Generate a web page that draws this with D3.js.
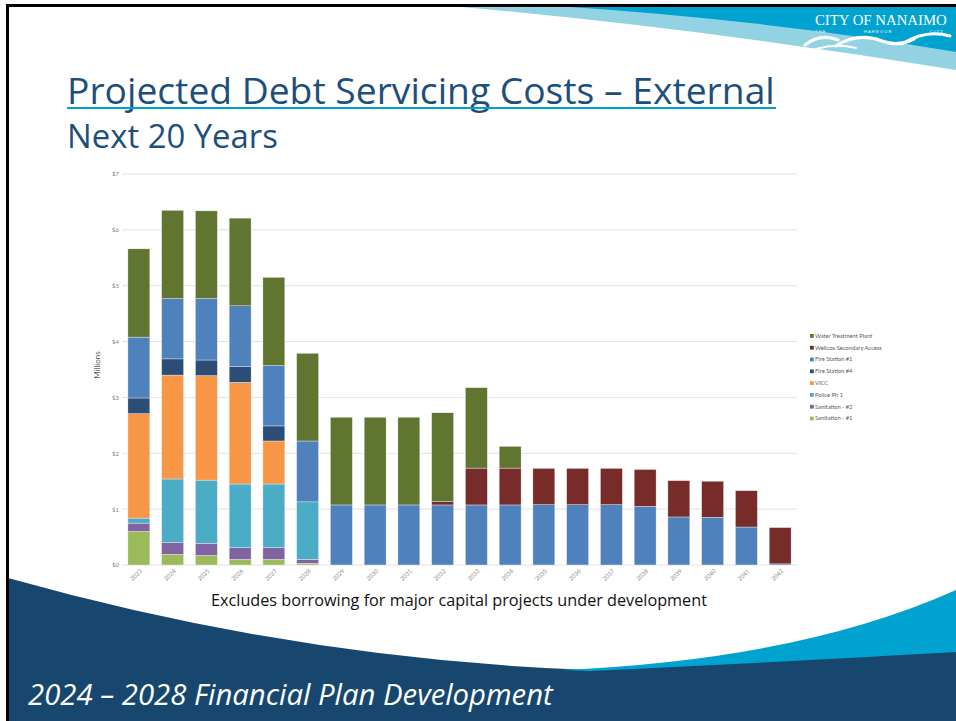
<!DOCTYPE html>
<html>
<head>
<meta charset="utf-8">
<script src="https://cdn.jsdelivr.net/npm/d3@7"></script>
<style>
  body { margin: 0; background: #fff; }
  svg { display: block; }
</style>
</head>
<body>
<div id="slide"></div>
<script>
// data (millions of dollars)
var years = ["2023","2024","2025","2026","2027","2028","2029","2030","2031","2032",
             "2033","2034","2035","2036","2037","2038","2039","2040","2041","2042"];
var sanitation1 = [0.60,0.19,0.17,0.10,0.10,0.03,0,0,0,0,0,0,0,0,0,0,0,0,0,0];
var sanitation2 = [0.15,0.21,0.22,0.21,0.21,0.07,0,0,0,0,0,0,0,0,0,0,0,0,0,0];
var policePh1   = [0.09,1.14,1.13,1.14,1.14,1.03,0,0,0,0,0,0,0,0,0,0,0,0,0,0];
var vicc        = [1.87,1.86,1.87,1.82,0.77,0,0,0,0,0,0,0,0,0,0,0,0,0,0,0];
var fireStation4 = [0.28,0.29,0.28,0.28,0.27,0,0,0,0,0,0,0,0,0,0,0,0,0,0,0];
var fireStation1 = [1.09,1.08,1.10,1.09,1.08,1.09,1.075,1.075,1.075,1.075,
                    1.075,1.075,1.08,1.08,1.08,1.05,0.86,0.855,0.68,0.02];
var wellcox     = [0,0,0,0,0,0,0,0,0,0.06,0.66,0.66,0.65,0.65,0.65,0.66,0.65,0.645,0.65,0.65];
var waterPlant  = [1.58,1.58,1.57,1.57,1.58,1.57,1.57,1.57,1.57,1.59,1.44,0.39,0,0,0,0,0,0,0,0];
var yTicks = [0,1,2,3,4,5,6,7];

var seriesNames = ["Sanitation - #1","Sanitation - #2","Police Ph 1","VICC",
                   "Fire Station #4","Fire Station #1","Wellcox Secondary Access","Water Treatment Plant"];
var seriesValues = [sanitation1, sanitation2, policePh1, vicc, fireStation4, fireStation1, wellcox, waterPlant];
var seriesColors = ["#9bbb59","#8064a2","#4bacc6","#f79646","#2c4d75","#4f81bd","#772c2a","#5f7530"];

var W = 956, H = 721;
var svg = d3.select("#slide").append("svg")
    .attr("width", W)
    .attr("height", H);

svg.append("rect").attr("width", W).attr("height", H).attr("fill", "#fff");

// fit a text to a given width by scaling its font size
function fit(t, width) {
    var len = t.node().getComputedTextLength();
    var fs = parseFloat(t.attr("font-size"));
    t.attr("font-size", fs * width / len);
}

// top decoration
svg.append("path")
    .attr("d", "M450,6 Q700,28 956,70 L956,6 Z")
    .attr("fill", "#92d2e3");
svg.append("path")
    .attr("d", "M556,6 Q770,20 956,52 L956,6 Z")
    .attr("fill", "#00a3cf");

// logo
var logo = svg.append("text")
    .attr("x", 815).attr("y", 25)
    .attr("font-family", "Liberation Serif")
    .attr("font-size", 15)
    .attr("fill", "#fff")
    .text("CITY OF NANAIMO");
fit(logo, 132);
[["T H E", 815], ["H A R B O U R", 864], ["C I T Y", 930]].forEach(function(p) {
    svg.append("text")
        .attr("x", p[1]).attr("y", 32.5)
        .attr("font-family", "Liberation Sans")
        .attr("font-size", 4.2)
        .attr("fill", "#e8f6fb")
        .text(p[0]);
});
var waves = svg.append("g")
    .attr("fill", "none").attr("stroke", "#fff").attr("stroke-linecap", "round");
waves.append("path").attr("d", "M805,45 Q820,33 838,40").attr("stroke-width", 3.2);
waves.append("path").attr("d", "M836,46 Q858,32 882,41 Q898,47 914,39").attr("stroke-width", 3.2);
waves.append("path").attr("d", "M902,44 Q926,29 950,36").attr("stroke-width", 3);
waves.append("path").attr("d", "M816,49 Q836,43 856,48").attr("stroke-width", 2);

// bottom waves
svg.append("path")
    .attr("d", "M8,578 Q300,660 590,670 Q800,660 956,650 L956,721 L8,721 Z")
    .attr("fill", "#17476f");
svg.append("path")
    .attr("d", "M560,670 Q800,660 956,590 L956,652 Q800,661 590,671 Z")
    .attr("fill", "#00a3cf");

// frame
svg.append("line").attr("x1", 6).attr("x2", W).attr("y1", 5.5).attr("y2", 5.5)
    .attr("stroke", "#000").attr("stroke-width", 3);
svg.append("line").attr("x1", 7.5).attr("x2", 7.5).attr("y1", 4).attr("y2", H)
    .attr("stroke", "#000").attr("stroke-width", 3);

// titles
var title = svg.append("text")
    .attr("x", 67).attr("y", 104)
    .attr("font-family", "Open Sans")
    .attr("font-size", 36)
    .attr("fill", "#1d4f7c")
    .text("Projected Debt Servicing Costs \u2013 External");
fit(title, 708);
svg.append("line").attr("x1", 67).attr("x2", 776).attr("y1", 108).attr("y2", 108)
    .attr("stroke", "#00a3cf").attr("stroke-width", 2.2);
var sub = svg.append("text")
    .attr("x", 67).attr("y", 148)
    .attr("font-family", "Open Sans")
    .attr("font-size", 32)
    .attr("fill", "#1d4f7c")
    .text("Next 20 Years");
fit(sub, 211);

// chart
var x = d3.scaleBand().domain(years).range([122, 797]).paddingInner(0.35).paddingOuter(0.175);
var y = d3.scaleLinear().domain([0, 7]).range([565, 174]);

var grid = svg.append("g");
grid.selectAll("line").data(yTicks).enter().append("line")
    .attr("x1", 122).attr("x2", 797)
    .attr("y1", function(d) { return y(d); })
    .attr("y2", function(d) { return y(d); })
    .attr("stroke", "#e3e3e3").attr("stroke-width", 1);

var yAxis = svg.append("g")
    .attr("transform", "translate(119,0)")
    .call(d3.axisLeft(y).tickValues(yTicks).tickSize(0).tickPadding(0)
        .tickFormat(function(d) { return "$" + d; }));
yAxis.select(".domain").remove();
yAxis.selectAll("text")
    .attr("font-family", "Lato").attr("font-size", 6).attr("fill", "#7f7f7f");

svg.append("text")
    .attr("transform", "translate(100,365) rotate(-90)")
    .attr("text-anchor", "middle")
    .attr("font-family", "Lato").attr("font-size", 8).attr("fill", "#595959")
    .text("Millions");

var rows = years.map(function(yr, i) {
    var r = { year: yr };
    seriesNames.forEach(function(n, k) { r[n] = seriesValues[k][i]; });
    return r;
});
var stacked = d3.stack().keys(seriesNames)(rows);

svg.append("g").selectAll("g").data(stacked).enter().append("g")
    .attr("fill", function(d, k) { return seriesColors[k]; })
    .selectAll("rect").data(function(d) { return d; }).enter()
    .filter(function(d) { return d[1] - d[0] > 0; })
    .append("rect")
    .attr("x", function(d) { return x(d.data.year); })
    .attr("width", x.bandwidth())
    .attr("y", function(d) { return y(d[1]); })
    .attr("height", function(d) { return y(d[0]) - y(d[1]); })
    .attr("stroke", "#f2f2f2").attr("stroke-width", 0.4);

var xAxis = svg.append("g")
    .attr("transform", "translate(0,567)")
    .call(d3.axisBottom(x).tickSize(0).tickPadding(0));
xAxis.select(".domain").remove();
xAxis.selectAll("text")
    .attr("font-family", "Lato").attr("font-size", 6).attr("fill", "#8c8c8c")
    .attr("text-anchor", "end")
    .attr("y", 0)
    .attr("dy", "0.35em")
    .attr("transform", "translate(2,3) rotate(-45)");

// legend
var legend = svg.append("g").selectAll("g")
    .data(seriesNames.slice().reverse()).enter().append("g")
    .attr("transform", function(d, i) { return "translate(810," + (336 + i * 11.8) + ")"; });
legend.append("rect")
    .attr("x", 0).attr("y", -2).attr("width", 3.8).attr("height", 3.8)
    .attr("fill", function(d) { return seriesColors[seriesNames.indexOf(d)]; });
legend.append("text")
    .attr("x", 5).attr("y", 1.8)
    .attr("font-family", "Lato").attr("font-size", 5.8).attr("fill", "#595959")
    .text(function(d) { return d; });

// note and footer
var note = svg.append("text")
    .attr("x", 459).attr("y", 606)
    .attr("text-anchor", "middle")
    .attr("font-family", "Open Sans").attr("font-size", 15).attr("fill", "#111")
    .text("Excludes borrowing for major capital projects under development");
fit(note, 496);

var foot = svg.append("text")
    .attr("x", 28).attr("y", 705)
    .attr("font-family", "Open Sans").attr("font-style", "italic")
    .attr("font-size", 26).attr("fill", "#fff")
    .text("2024 \u2013 2028 Financial Plan Development");
fit(foot, 525);
</script>
</body>
</html>
